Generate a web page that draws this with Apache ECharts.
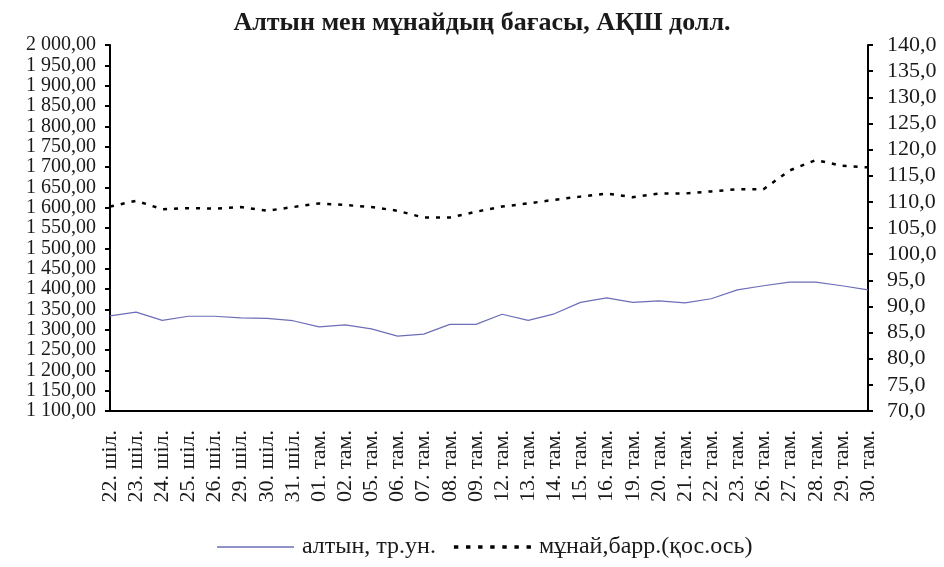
<!DOCTYPE html>
<html><head><meta charset="utf-8">
<script src="https://cdn.jsdelivr.net/npm/echarts@6/dist/echarts.min.js"></script>
<style>html,body{margin:0;padding:0;background:#fff}#c{width:944px;height:567px}</style>
</head><body><div id="c"></div>
<script>
var categories = ['22. шіл.','23. шіл.','24. шіл.','25. шіл.','26. шіл.','29. шіл.','30. шіл.','31. шіл.',
  '01. там.','02. там.','05. там.','06. там.','07. там.','08. там.','09. там.','12. там.','13. там.','14. там.',
  '15. там.','16. там.','19. там.','20. там.','21. там.','22. там.','23. там.','26. там.','27. там.','28. там.','29. там.','30. там.'];
var gold = [1334,1343,1323,1333,1333,1329,1328,1322,1307,1312,1302,1284,1289,1313,1313,1338,1323,1339,1367,1378,1367,1371,1366,1376,1398,1408,1417,1417,1408,1398];
var oil = [109.1,110.2,108.6,108.8,108.7,109.0,108.3,109.0,109.7,109.4,109.0,108.3,107.0,107.0,108.1,109.1,109.7,110.4,111.0,111.6,110.9,111.6,111.6,112.0,112.4,112.4,116.0,118.0,116.9,116.6];
var goldName = 'алтын, тр.ун.';
var oilName = 'мұнай,барр.(қос.ось)';
var titleText = 'Алтын мен мұнайдың бағасы, АҚШ долл.';

function fmtLeft(v){
  var s = v.toFixed(2).replace('.', ',');
  var parts = s.split(',');
  var ip = parts[0].replace(/\B(?=(\d{3})+(?!\d))/g, ' ');
  return ip + ',' + parts[1];
}
function fmtRight(v){ return v.toFixed(1).replace('.', ','); }

var font = 'Liberation Serif';
var dashIcon = 'path://M0,0h4v3h-4z M11,0h4v3h-4z M22,0h4v3h-4z M33,0h4v3h-4z M44,0h4v3h-4z M55,0h4v3h-4z M66,0h4v3h-4z';
var chart = echarts.init(document.getElementById('c'));
chart.setOption({
  animation: false,
  backgroundColor: '#fff',
  title: { text: titleText, left: 477, top: 5, textAlign: 'center',
    textStyle: { fontFamily: font, fontSize: 26, fontWeight: 'bold', color: '#1a1a1a' } },
  legend: {
    bottom: 3, left: 212, itemWidth: 77, itemHeight: 14, itemGap: 18,
    textStyle: { fontFamily: font, fontSize: 24, color: '#1a1a1a', padding: [0, 0, 0, 3] },
    data: [
      { name: goldName, icon: 'path://M0,0 L10,0 L10,0.2 L0,0.2 Z' },
      { name: oilName, icon: dashIcon }
    ]
  },
  grid: { left: 110, right: 76, top: 45, bottom: 156, containLabel: false },
  xAxis: {
    type: 'category', data: categories, boundaryGap: false,
    axisLine: { lineStyle: { color: '#000', width: 2 } },
    axisTick: { show: false },
    axisLabel: { rotate: 90, interval: 0, margin: 19, fontFamily: font, fontSize: 22, color: '#1a1a1a' }
  },
  yAxis: [
    { type: 'value', min: 1100, max: 2000, interval: 50,
      axisLine: { show: true, lineStyle: { color: '#000', width: 2 } },
      axisTick: { show: true, length: 5, lineStyle: { color: '#000', width: 2 } },
      splitLine: { show: false },
      axisLabel: { formatter: fmtLeft, margin: 14, fontFamily: font, fontSize: 20, color: '#1a1a1a' } },
    { type: 'value', min: 70, max: 140, interval: 5, position: 'right',
      axisLine: { show: true, lineStyle: { color: '#000', width: 2 } },
      axisTick: { show: true, length: 5, lineStyle: { color: '#000', width: 2 } },
      splitLine: { show: false },
      axisLabel: { formatter: fmtRight, margin: 19, fontFamily: font, fontSize: 22, color: '#1a1a1a',
        showMinLabel: true, showMaxLabel: true } }
  ],
  series: [
    { name: goldName, type: 'line', yAxisIndex: 0, data: gold, symbol: 'none',
      lineStyle: { color: '#6e6eb8', width: 1.2 }, itemStyle: { color: '#6e6eb8' } },
    { name: oilName, type: 'line', yAxisIndex: 1, data: oil, symbol: 'none',
      lineStyle: { color: '#000', width: 2.5, type: [4, 7] }, itemStyle: { color: '#000' } }
  ]
});
</script></body></html>
